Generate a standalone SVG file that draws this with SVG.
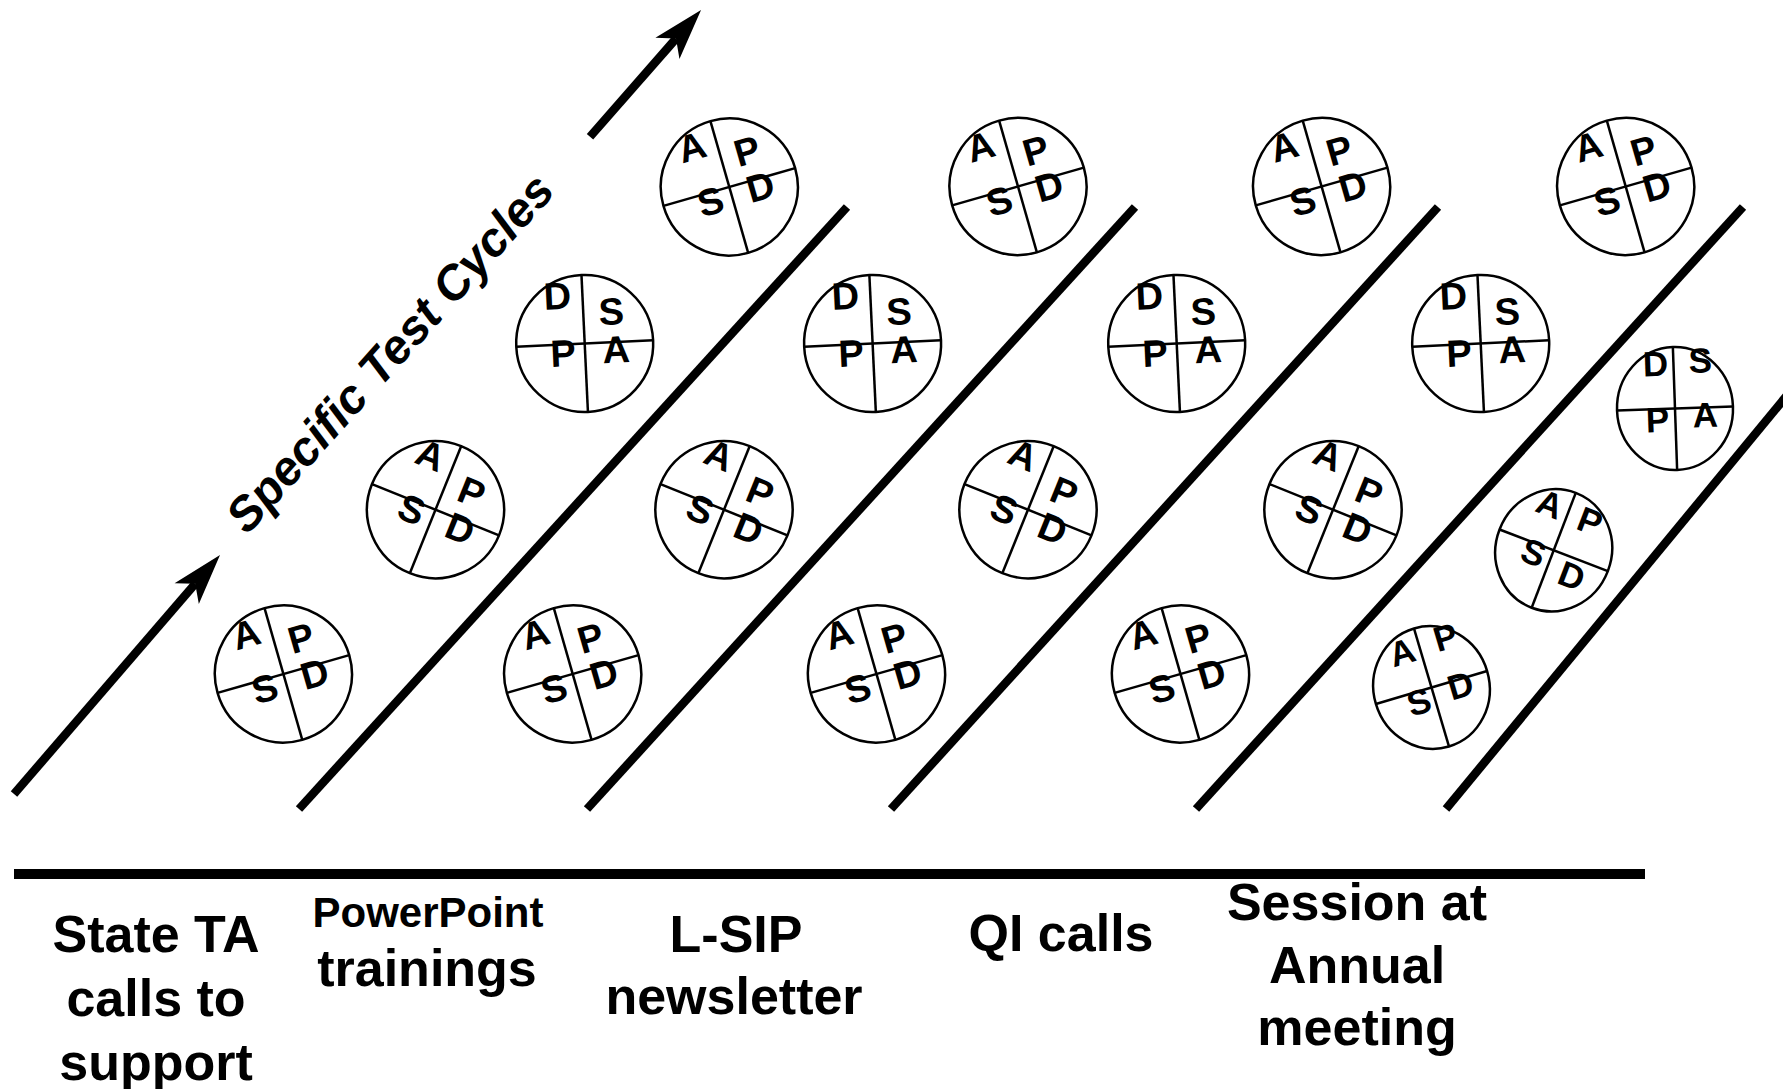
<svg xmlns="http://www.w3.org/2000/svg" xmlns:xlink="http://www.w3.org/1999/xlink" width="1783" height="1089" viewBox="0 0 1783 1089">
  <style>
    .ring { fill: none; stroke: #000; stroke-width: 2.5; }
    .div { stroke: #000; stroke-width: 2.5; }
    .pdsa text { font-family: "Liberation Sans", Arial, sans-serif; font-weight: bold; font-size: 38px; text-anchor: middle; fill: #000; }
    .pdsa.small text { font-size: 35px; }
    .rail { stroke: #000; stroke-width: 8.5; fill: none; }
    .arrow { stroke: #000; stroke-width: 8.5; fill: none; marker-end: url(#head); }
    .label { font-family: "Liberation Sans", Arial, sans-serif; font-weight: bold; font-size: 52px; text-anchor: middle; fill: #000; }
    .label.sub { font-size: 42px; }
    .title { font-family: "Liberation Sans", Arial, sans-serif; font-weight: bold; font-style: italic; font-size: 48px; text-anchor: middle; fill: #000; }
  </style>
  <defs>
    <marker id="head" markerUnits="userSpaceOnUse" orient="auto" refX="0" refY="0" markerWidth="1" markerHeight="1" overflow="visible">
      <path d="M38,0 L-13,-16 L0,0 L-13,16 Z" fill="#000"/>
    </marker>
    <!-- cycle wheel: ring with a cross dividing four quadrants -->
    <g id="wheel">
      <circle class="ring" r="68.5"/>
      <line class="div" x1="0" y1="-68.5" x2="0" y2="68.5"/>
      <line class="div" x1="-68.5" y1="0" x2="68.5" y2="0"/>
    </g>
    <g id="wheel-s">
      <ellipse class="ring" rx="58" ry="61.5"/>
      <line class="div" x1="0" y1="-61.5" x2="0" y2="61.5"/>
      <line class="div" x1="-58" y1="0" x2="58" y2="0"/>
    </g>
  </defs>

  <rect width="1783" height="1089" fill="#fff"/>

  <!-- connectors: direction arrows, lane dividers and the baseline -->
  <g id="connectors">
    <line class="arrow" x1="14" y1="794" x2="195.2" y2="583.8"/>
    <line class="arrow" x1="590" y1="136.7" x2="676" y2="38.6"/>
    <line class="rail" x1="299" y1="809" x2="847" y2="207"/>
    <line class="rail" x1="587" y1="809" x2="1135" y2="207"/>
    <line class="rail" x1="891" y1="809" x2="1438" y2="207"/>
    <line class="rail" x1="1196" y1="809" x2="1743" y2="207"/>
    <line class="rail" x1="1446" y1="809" x2="1800" y2="379.6"/>
    <line x1="14" y1="874" x2="1645" y2="874" stroke="#000" stroke-width="10"/>
  </g>

  <text id="title" class="title" transform="translate(402,364) rotate(-48)">Specific Test Cycles</text>

  <!-- lane 1 -->
  <g id="cycle-1-1" class="pdsa" transform="translate(283.4,674) rotate(-16)">
    <use xlink:href="#wheel"/>
    <text x="-25" y="-35.5">A</text><text x="27" y="-16.5">P</text><text x="-22" y="22">S</text><text x="30" y="21.5">D</text>
  </g>
  <g id="cycle-1-2" class="pdsa" transform="translate(435.5,509.7) rotate(22)">
    <use xlink:href="#wheel"/>
    <text x="-25" y="-35.5">A</text><text x="27" y="-16.5">P</text><text x="-22" y="22">S</text><text x="30" y="21.5">D</text>
  </g>
  <g id="cycle-1-3" class="pdsa" transform="translate(584.7,343.5) rotate(-2.7)">
    <use xlink:href="#wheel"/>
    <text x="-25" y="-35.5">D</text><text x="28" y="-17.5">S</text><text x="-22" y="22">P</text><text x="31" y="20.5">A</text>
  </g>
  <g id="cycle-1-4" class="pdsa" transform="translate(729.3,187) rotate(-16)">
    <use xlink:href="#wheel"/>
    <text x="-25" y="-35.5">A</text><text x="27" y="-16.5">P</text><text x="-22" y="22">S</text><text x="30" y="21.5">D</text>
  </g>

  <!-- lane 2 -->
  <g id="cycle-2-1" class="pdsa" transform="translate(572.7,674) rotate(-16)">
    <use xlink:href="#wheel"/>
    <text x="-25" y="-35.5">A</text><text x="27" y="-16.5">P</text><text x="-22" y="22">S</text><text x="30" y="21.5">D</text>
  </g>
  <g id="cycle-2-2" class="pdsa" transform="translate(724,509.7) rotate(22)">
    <use xlink:href="#wheel"/>
    <text x="-25" y="-35.5">A</text><text x="27" y="-16.5">P</text><text x="-22" y="22">S</text><text x="30" y="21.5">D</text>
  </g>
  <g id="cycle-2-3" class="pdsa" transform="translate(872.6,343.5) rotate(-2.7)">
    <use xlink:href="#wheel"/>
    <text x="-25" y="-35.5">D</text><text x="28" y="-17.5">S</text><text x="-22" y="22">P</text><text x="31" y="20.5">A</text>
  </g>
  <g id="cycle-2-4" class="pdsa" transform="translate(1018,186.5) rotate(-16)">
    <use xlink:href="#wheel"/>
    <text x="-25" y="-35.5">A</text><text x="27" y="-16.5">P</text><text x="-22" y="22">S</text><text x="30" y="21.5">D</text>
  </g>

  <!-- lane 3 -->
  <g id="cycle-3-1" class="pdsa" transform="translate(876.5,674) rotate(-16)">
    <use xlink:href="#wheel"/>
    <text x="-25" y="-35.5">A</text><text x="27" y="-16.5">P</text><text x="-22" y="22">S</text><text x="30" y="21.5">D</text>
  </g>
  <g id="cycle-3-2" class="pdsa" transform="translate(1028,509.7) rotate(22)">
    <use xlink:href="#wheel"/>
    <text x="-25" y="-35.5">A</text><text x="27" y="-16.5">P</text><text x="-22" y="22">S</text><text x="30" y="21.5">D</text>
  </g>
  <g id="cycle-3-3" class="pdsa" transform="translate(1176.7,343.5) rotate(-2.7)">
    <use xlink:href="#wheel"/>
    <text x="-25" y="-35.5">D</text><text x="28" y="-17.5">S</text><text x="-22" y="22">P</text><text x="31" y="20.5">A</text>
  </g>
  <g id="cycle-3-4" class="pdsa" transform="translate(1321.6,186.5) rotate(-16)">
    <use xlink:href="#wheel"/>
    <text x="-25" y="-35.5">A</text><text x="27" y="-16.5">P</text><text x="-22" y="22">S</text><text x="30" y="21.5">D</text>
  </g>

  <!-- lane 4 -->
  <g id="cycle-4-1" class="pdsa" transform="translate(1180.5,674) rotate(-16)">
    <use xlink:href="#wheel"/>
    <text x="-25" y="-35.5">A</text><text x="27" y="-16.5">P</text><text x="-22" y="22">S</text><text x="30" y="21.5">D</text>
  </g>
  <g id="cycle-4-2" class="pdsa" transform="translate(1333,509.7) rotate(22)">
    <use xlink:href="#wheel"/>
    <text x="-25" y="-35.5">A</text><text x="27" y="-16.5">P</text><text x="-22" y="22">S</text><text x="30" y="21.5">D</text>
  </g>
  <g id="cycle-4-3" class="pdsa" transform="translate(1480.7,343.5) rotate(-2.7)">
    <use xlink:href="#wheel"/>
    <text x="-25" y="-35.5">D</text><text x="28" y="-17.5">S</text><text x="-22" y="22">P</text><text x="31" y="20.5">A</text>
  </g>
  <g id="cycle-4-4" class="pdsa" transform="translate(1625.7,186.5) rotate(-16)">
    <use xlink:href="#wheel"/>
    <text x="-25" y="-35.5">A</text><text x="27" y="-16.5">P</text><text x="-22" y="22">S</text><text x="30" y="21.5">D</text>
  </g>

  <!-- lane 5: smaller wheels -->
  <g id="cycle-5-1" class="pdsa small" transform="translate(1431.5,687.5) rotate(-16.5)">
    <use xlink:href="#wheel-s"/>
    <text x="-18" y="-30">A</text><text x="27.7" y="-32">P</text><text x="-16" y="22.5">S</text><text x="28.4" y="18.5">D</text>
  </g>
  <g id="cycle-5-2" class="pdsa small" transform="translate(1553.7,550.3) rotate(21)">
    <use xlink:href="#wheel-s"/>
    <text x="-20" y="-29.5">A</text><text x="23.5" y="-28">P</text><text x="-18" y="21.5">S</text><text x="26" y="29.5">D</text>
  </g>
  <g id="cycle-5-3" class="pdsa small" transform="translate(1675,408.5) rotate(-2)">
    <use xlink:href="#wheel-s"/>
    <text x="-18" y="-33">D</text><text x="27" y="-35">S</text><text x="-18" y="23">P</text><text x="30" y="19.5">A</text>
  </g>

  <!-- channel labels under the baseline -->
  <g id="label-state-ta">
    <text class="label" x="156" y="952">State TA</text>
    <text class="label" x="156" y="1016">calls to</text>
    <text class="label" x="156" y="1080">support</text>
  </g>
  <g id="label-powerpoint">
    <text class="label sub" x="428" y="927">PowerPoint</text>
    <text class="label" x="427" y="986">trainings</text>
  </g>
  <g id="label-lsip">
    <text class="label" x="736" y="952">L-SIP</text>
    <text class="label" x="734" y="1014">newsletter</text>
  </g>
  <g id="label-qi">
    <text class="label" x="1061" y="951">QI calls</text>
  </g>
  <g id="label-session">
    <text class="label" x="1357" y="920">Session at</text>
    <text class="label" x="1357" y="983">Annual</text>
    <text class="label" x="1357" y="1045">meeting</text>
  </g>
</svg>
